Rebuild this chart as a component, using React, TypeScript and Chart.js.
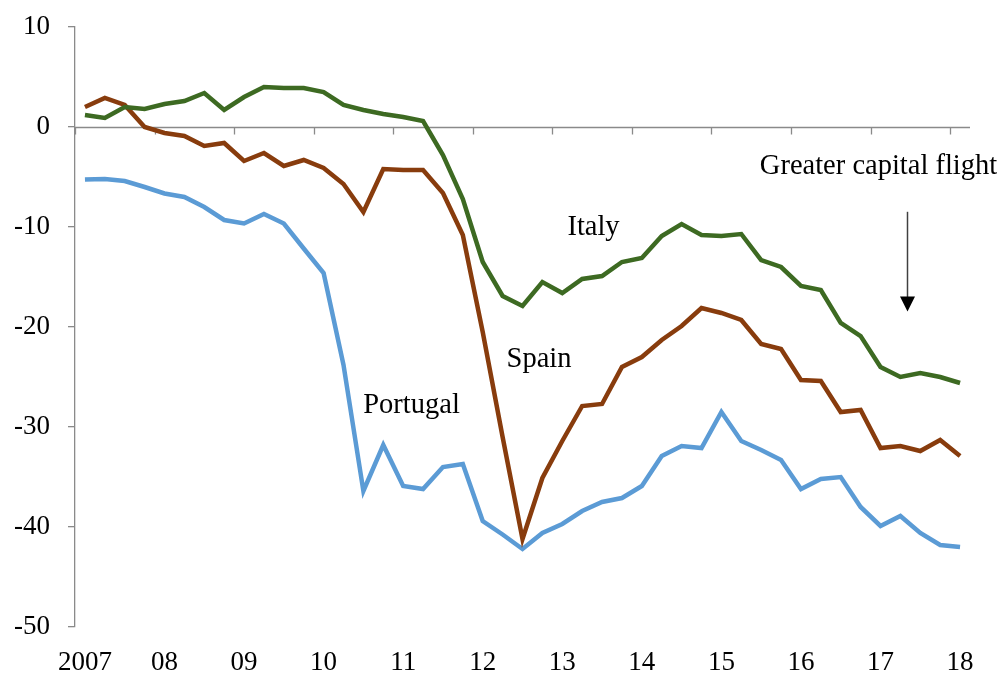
import React, { useEffect, useRef } from "react";
import { Chart, registerables } from "chart.js";

Chart.register(...registerables);

const yearLabels = ["2007", "08", "09", "10", "11", "12", "13", "14", "15", "16", "17", "18"];
const quarters: string[] = [];
for (let y = 0; y < yearLabels.length; y++) {
  for (let q = 1; q <= 4; q++) {
    if (y === yearLabels.length - 1 && q > 1) break;
    quarters.push(`${yearLabels[y]} Q${q}`);
  }
}

const italy = [1.2, 0.9, 2.0, 1.8, 2.3, 2.6, 3.4, 1.7, 3.0, 4.0, 3.9, 3.9, 3.5, 2.2, 1.7, 1.3, 1.0, 0.6,
  -2.8, -7.2, -13.5, -16.9, -17.9, -15.5, -16.6, -15.2, -14.9, -13.5, -13.1, -10.9, -9.7, -10.8, -10.9, -10.7,
  -13.3, -14.0, -15.9, -16.3, -19.6, -20.9, -24.0, -25.0, -24.6, -25.0, -25.6];

const spain = [2.0, 2.9, 2.2, 0.0, -0.6, -0.9, -1.9, -1.6, -3.4, -2.6, -3.9, -3.3, -4.1, -5.7, -8.5, -4.2, -4.3, -4.3,
  -6.6, -10.8, -20.5, -31.0, -41.2, -35.1, -31.4, -27.9, -27.7, -24.0, -23.0, -21.3, -19.9, -18.1, -18.6, -19.3,
  -21.7, -22.2, -25.3, -25.4, -28.5, -28.3, -32.1, -31.9, -32.4, -31.3, -32.9];

const portugal = [-5.25, -5.2, -5.4, -6.0, -6.65, -7.0, -8.0, -9.3, -9.65, -8.7, -9.65, -12.15, -14.6,
  -23.8, -36.4, -31.8, -35.9, -36.2, -34.0, -33.7, -39.4, -40.75, -42.2, -40.6, -39.7, -38.4, -37.5, -37.1,
  -35.9, -32.9, -31.9, -32.1, -28.5, -31.4, -32.3, -33.3, -36.2, -35.2, -35.0, -38.0, -39.9, -38.9, -40.6, -41.8, -42.0];

const yMin = -50;
const yMax = 10;
const yStep = 10;

const annotations = [
  { text: "Italy", index: 25.57, value: -10.78 },
  { text: "Spain", index: 22.83, value: -23.95 },
  { text: "Portugal", index: 16.42, value: -28.6 },
  { text: "Greater capital flight", index: 39.9, value: -4.66 },
];
const arrow = { index: 41.33, from: -8.48, to: -18.46 };

const FONT = "'Liberation Serif', 'Times New Roman', serif";
const AXIS_COLOR = "#8a8a8a";

const overlayPlugin = {
  id: "overlay",
  beforeDatasetsDraw(chart: any) {
    const { ctx, chartArea, scales } = chart;
    const x = scales.x;
    const y = scales.y;
    const y0 = Math.round(y.getPixelForValue(0)) + 0.5;
    const half = (x.getPixelForValue(1) - x.getPixelForValue(0)) / 2;
    ctx.save();
    ctx.strokeStyle = AXIS_COLOR;
    ctx.lineWidth = 1.3;
    ctx.beginPath();
    ctx.moveTo(chartArea.left, y0);
    ctx.lineTo(chartArea.right, y0);
    for (let i = 0; i < quarters.length; i += 4) {
      const px = Math.round(x.getPixelForValue(i) - half) + 0.5;
      ctx.moveTo(px, y0);
      ctx.lineTo(px, y0 + 7);
    }
    ctx.stroke();
    ctx.restore();
  },
  afterDatasetsDraw(chart: any) {
    const { ctx, scales } = chart;
    const x = scales.x;
    const y = scales.y;
    const step = x.getPixelForValue(1) - x.getPixelForValue(0);
    const px = (idx: number) => x.getPixelForValue(0) + idx * step;
    ctx.save();
    ctx.fillStyle = "#000";
    ctx.font = `28.5px ${FONT}`;
    ctx.textAlign = "center";
    ctx.textBaseline = "alphabetic";
    for (const a of annotations) {
      ctx.fillText(a.text, px(a.index), y.getPixelForValue(a.value));
    }
    const ax = Math.round(px(arrow.index)) + 0.5;
    const yTop = y.getPixelForValue(arrow.from);
    const yTip = y.getPixelForValue(arrow.to);
    ctx.strokeStyle = "#404040";
    ctx.lineWidth = 1.5;
    ctx.beginPath();
    ctx.moveTo(ax, yTop);
    ctx.lineTo(ax, yTip - 12);
    ctx.stroke();
    ctx.fillStyle = "#000";
    ctx.beginPath();
    ctx.moveTo(ax - 7.5, yTip - 15);
    ctx.lineTo(ax + 7.5, yTip - 15);
    ctx.lineTo(ax, yTip);
    ctx.closePath();
    ctx.fill();
    ctx.restore();
  },
};

export default function App() {
  const ref = useRef<HTMLCanvasElement>(null);
  useEffect(() => {
    if (!ref.current) return;
    const chart = new Chart(ref.current, {
      type: "line",
      data: {
        labels: quarters,
        datasets: [
          { label: "Italy", data: italy, borderColor: "#3d6a22", borderWidth: 4.5, pointRadius: 0, tension: 0, fill: false },
          { label: "Spain", data: spain, borderColor: "#883c0d", borderWidth: 4.5, pointRadius: 0, tension: 0, fill: false },
          { label: "Portugal", data: portugal, borderColor: "#5b9bd5", borderWidth: 4.5, pointRadius: 0, tension: 0, fill: false },
        ],
      },
      options: {
        responsive: false,
        animation: false,
        layout: { padding: { left: 0, right: 33, top: 27, bottom: 0 } },
        plugins: { legend: { display: false }, tooltip: { enabled: false } },
        scales: {
          x: {
            type: "category",
            offset: true,
            grid: { display: false },
            border: { display: false },
            ticks: {
              autoSkip: false,
              maxRotation: 0,
              minRotation: 0,
              padding: 12,
              color: "#000",
              font: { family: FONT, size: 27 },
              callback: (_v: any, idx: number) => (idx % 4 === 0 ? yearLabels[idx / 4] : ""),
            },
            afterFit: (scale: any) => {
              scale.height = 48;
            },
          },
          y: {
            min: yMin,
            max: yMax,
            grid: { drawOnChartArea: false, tickLength: 7, color: AXIS_COLOR, lineWidth: 1.3 },
            border: { display: true, color: AXIS_COLOR, width: 1.3 },
            ticks: {
              stepSize: yStep,
              padding: 18,
              color: "#000",
              font: { family: FONT, size: 27 },
            },
            afterFit: (scale: any) => {
              scale.width = 75;
              scale.paddingTop = 0;
              scale.paddingBottom = 0;
            },
          },
        },
      },
      plugins: [overlayPlugin],
    });
    return () => chart.destroy();
  }, []);
  return (
    <div style={{ position: "fixed", left: 0, top: 0, width: 1003, height: 675, background: "#fff" }}>
      <canvas ref={ref} width={1003} height={675} />
    </div>
  );
}
